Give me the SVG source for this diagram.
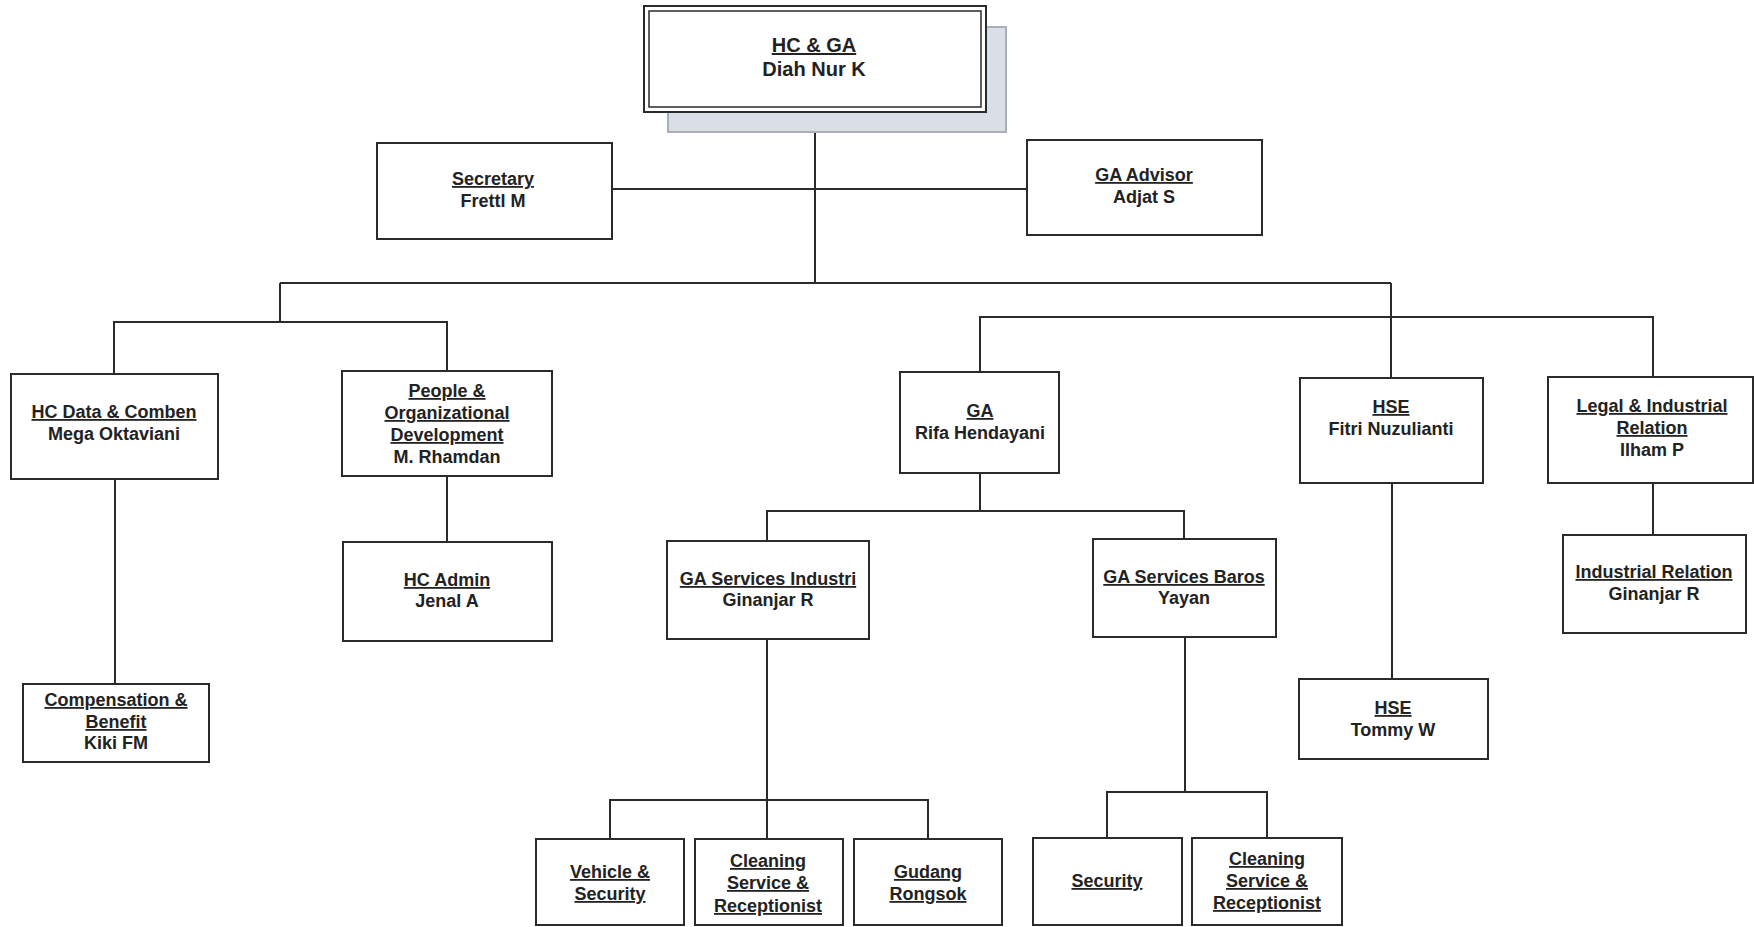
<svg xmlns="http://www.w3.org/2000/svg" width="1754" height="927" viewBox="0 0 1754 927">
<style>
  .bx { fill: #ffffff; stroke: #2b2b2b; stroke-width: 2; }
  .cn { fill: none; stroke: #2b2b2b; stroke-width: 2; }
  text { font-family: "Liberation Sans", Arial, sans-serif; font-weight: bold; font-size: 18px; fill: #222222; text-anchor: middle; }
  .u { text-decoration: underline; }
  .big { font-size: 20px; }
</style>
<rect width="1754" height="927" fill="#ffffff"/>

<g id="connectors">
  <polyline class="cn" points="815,112 815,283"/>
  <polyline class="cn" points="612,189 1027,189"/>
  <polyline class="cn" points="280,283 1391,283"/>
  <polyline class="cn" points="280,283 280,322"/>
  <polyline class="cn" points="114,374 114,322 447,322 447,371"/>
  <polyline class="cn" points="1391,283 1391,378"/>
  <polyline class="cn" points="980,372 980,317 1653,317 1653,377"/>
  <polyline class="cn" points="115,479 115,684"/>
  <polyline class="cn" points="447,476 447,542"/>
  <polyline class="cn" points="1653,483 1653,535"/>
  <polyline class="cn" points="1392,483 1392,679"/>
  <polyline class="cn" points="980,473 980,511"/>
  <polyline class="cn" points="767,541 767,511 1184,511 1184,539"/>
  <polyline class="cn" points="767,639 767,839"/>
  <polyline class="cn" points="610,839 610,800 928,800 928,839"/>
  <polyline class="cn" points="1185,637 1185,792"/>
  <polyline class="cn" points="1107,838 1107,792 1267,792 1267,838"/>
</g>

<g id="node-hcga">
  <rect x="668" y="27" width="338" height="105" fill="#d9dee7" stroke="#a9afb9" stroke-width="2"/>
  <rect x="644" y="6" width="342" height="106" class="bx"/>
  <rect x="649" y="11" width="332" height="96" fill="none" stroke="#2b2b2b" stroke-width="1.5"/>
  <text x="814" y="52" class="big u">HC &amp; GA</text>
  <text x="814" y="76" class="big">Diah Nur K</text>
</g>

<g id="node-secretary">
  <rect x="377" y="143" width="235" height="96" class="bx"/>
  <text x="493" y="185" class="u">Secretary</text>
  <text x="493" y="207">Frettl M</text>
</g>

<g id="node-ga-advisor">
  <rect x="1027" y="140" width="235" height="95" class="bx"/>
  <text x="1144" y="181" class="u">GA Advisor</text>
  <text x="1144" y="203">Adjat S</text>
</g>

<g id="node-hc-data">
  <rect x="11" y="374" width="207" height="105" class="bx"/>
  <text x="114" y="418" class="u">HC Data &amp; Comben</text>
  <text x="114" y="440">Mega Oktaviani</text>
</g>

<g id="node-people-od">
  <rect x="342" y="371" width="210" height="105" class="bx"/>
  <text x="447" y="397" class="u">People &amp;</text>
  <text x="447" y="419" class="u">Organizational</text>
  <text x="447" y="441" class="u">Development</text>
  <text x="447" y="463">M. Rhamdan</text>
</g>

<g id="node-ga">
  <rect x="900" y="372" width="159" height="101" class="bx"/>
  <text x="980" y="417" class="u">GA</text>
  <text x="980" y="439">Rifa Hendayani</text>
</g>

<g id="node-hse">
  <rect x="1300" y="378" width="183" height="105" class="bx"/>
  <text x="1391" y="413" class="u">HSE</text>
  <text x="1391" y="435">Fitri Nuzulianti</text>
</g>

<g id="node-legal">
  <rect x="1548" y="377" width="205" height="106" class="bx"/>
  <text x="1652" y="412" class="u">Legal &amp; Industrial</text>
  <text x="1652" y="434" class="u">Relation</text>
  <text x="1652" y="456">Ilham P</text>
</g>

<g id="node-comp-benefit">
  <rect x="23" y="684" width="186" height="78" class="bx"/>
  <text x="116" y="706" class="u">Compensation &amp;</text>
  <text x="116" y="728" class="u">Benefit</text>
  <text x="116" y="749">Kiki FM</text>
</g>

<g id="node-hc-admin">
  <rect x="343" y="542" width="209" height="99" class="bx"/>
  <text x="447" y="586" class="u">HC Admin</text>
  <text x="447" y="607">Jenal A</text>
</g>

<g id="node-ga-industri">
  <rect x="667" y="541" width="202" height="98" class="bx"/>
  <text x="768" y="585" class="u">GA Services Industri</text>
  <text x="768" y="606">Ginanjar R</text>
</g>

<g id="node-ga-baros">
  <rect x="1093" y="539" width="183" height="98" class="bx"/>
  <text x="1184" y="583" class="u">GA Services Baros</text>
  <text x="1184" y="604">Yayan</text>
</g>

<g id="node-hse-tommy">
  <rect x="1299" y="679" width="189" height="80" class="bx"/>
  <text x="1393" y="714" class="u">HSE</text>
  <text x="1393" y="736">Tommy W</text>
</g>

<g id="node-industrial-relation">
  <rect x="1563" y="535" width="183" height="98" class="bx"/>
  <text x="1654" y="578" class="u">Industrial Relation</text>
  <text x="1654" y="600">Ginanjar R</text>
</g>

<g id="node-vehicle-security">
  <rect x="536" y="839" width="148" height="86" class="bx"/>
  <text x="610" y="878" class="u">Vehicle &amp;</text>
  <text x="610" y="900" class="u">Security</text>
</g>

<g id="node-cleaning-1">
  <rect x="695" y="839" width="148" height="86" class="bx"/>
  <text x="768" y="867" class="u">Cleaning</text>
  <text x="768" y="889" class="u">Service &amp;</text>
  <text x="768" y="912" class="u">Receptionist</text>
</g>

<g id="node-gudang">
  <rect x="854" y="839" width="148" height="86" class="bx"/>
  <text x="928" y="878" class="u">Gudang</text>
  <text x="928" y="900" class="u">Rongsok</text>
</g>

<g id="node-security">
  <rect x="1033" y="838" width="149" height="87" class="bx"/>
  <text x="1107" y="887" class="u">Security</text>
</g>

<g id="node-cleaning-2">
  <rect x="1192" y="838" width="150" height="87" class="bx"/>
  <text x="1267" y="865" class="u">Cleaning</text>
  <text x="1267" y="887" class="u">Service &amp;</text>
  <text x="1267" y="909" class="u">Receptionist</text>
</g>
</svg>
